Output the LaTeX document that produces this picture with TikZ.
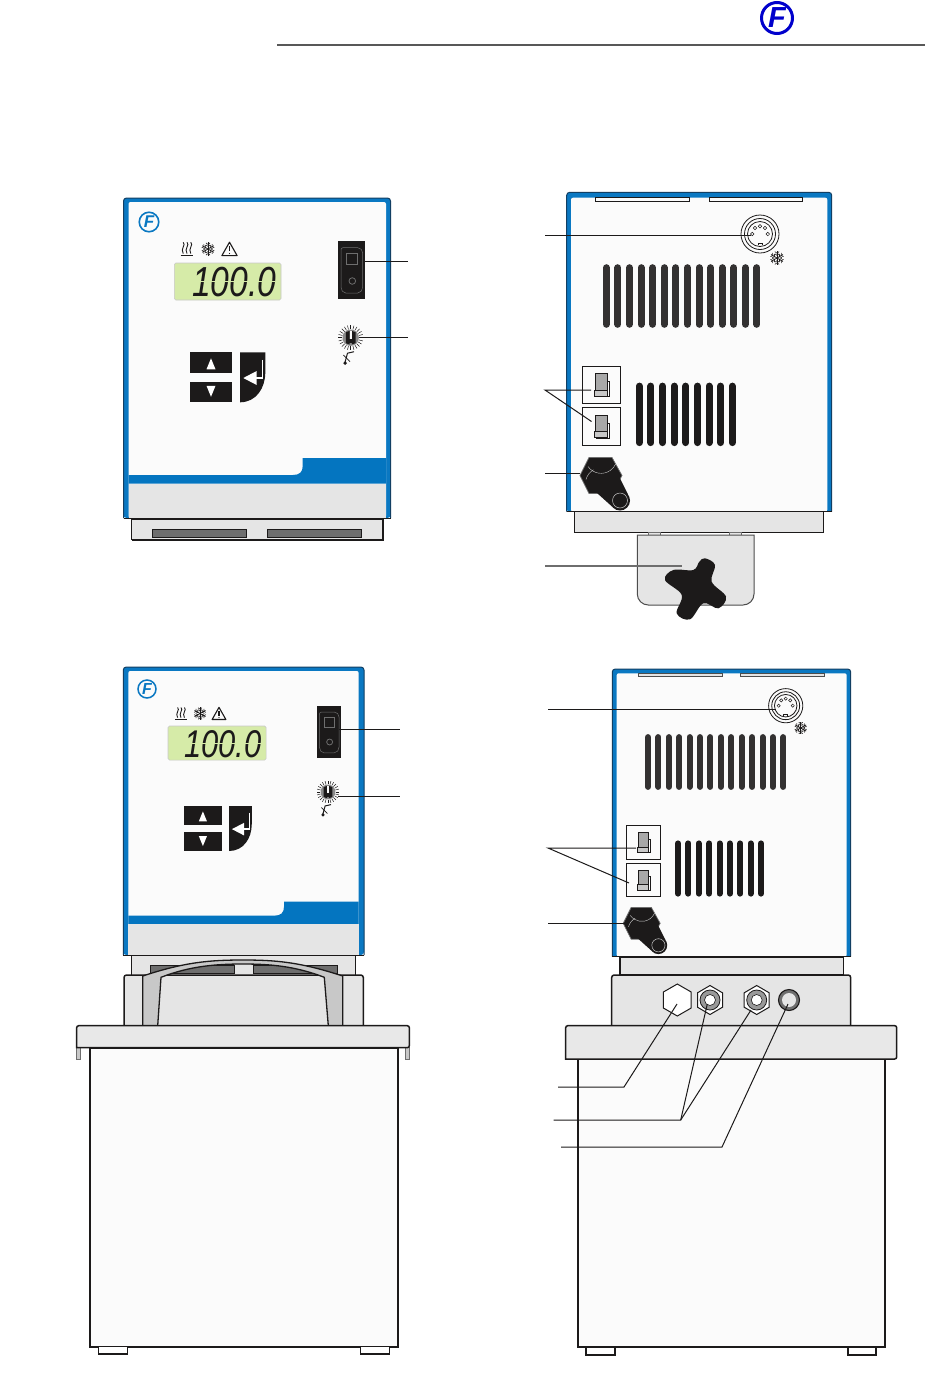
\documentclass[tikz,border=0pt]{standalone}
\usepackage{fontspec}
\setmainfont{Liberation Sans}
\definecolor{fblue}{HTML}{0A78C2}
\definecolor{fband}{HTML}{0475C0}
\definecolor{fedge}{HTML}{123F63}
\definecolor{logoblue}{HTML}{0000CC}
\definecolor{shell}{HTML}{FBFBFB}
\definecolor{lgray}{HTML}{E5E5E5}
\definecolor{hgray}{HTML}{C8C8C8}
\definecolor{sgray}{HTML}{6E6E6E}
\definecolor{ink}{HTML}{1C1A1A}
\definecolor{lcd}{HTML}{D6EBA8}
\tikzset{
  outl/.style={draw=ink,line width=1.5pt},
  leader/.style={draw=ink,line width=1pt},
  leadergray/.style={draw=sgray,line width=1.7pt},
  logotext/.style={font=\bfseries\itshape\fontsize{#1}{#1}\selectfont,inner sep=0pt},
}
% #1 name #2 x #3 y #4 size #5 colour #6 ring width #7 font size
\newcommand\flogo[7]{\node[circle,draw=#5,line width=#6,minimum size=#4,inner sep=0pt,text=#5,logotext=#7] (#1) at (#2,#3) {F};}
% #1 x1 #2 y1 #3 x2 #4 y2 #5 ix1 #6 iy1 #7 ix2
\newcommand\shellbody[7]{%
  \fill[fblue,rounded corners=3pt] (#1,#4) -- (#1,#2) -- (#3,#2) -- (#3,#4) -- cycle;
  \draw[fedge,line width=1pt,rounded corners=3pt] (#1,#4) -- (#1,#2) -- (#3,#2) -- (#3,#4);
  \fill[shell,rounded corners=2pt] (#5,#4) -- (#5,#6) -- (#7,#6) -- (#7,#4) -- cycle;
  \draw[ink,line width=1pt] (#1,#4) -- (#3,#4);
}
% #1 ix1 #2 ix2 #3 notch x #4 band right top #5 band left top #6 gray top #7 bottom
\newcommand\frontband[7]{%
  \fill[fband] (#1,#6) -- (#1,#5) -- ({#3-10},#5) .. controls ({#3-3},#5) and (#3,{#5-3}) .. (#3,{#5-9}) -- (#3,#4) -- (#2,#4) -- (#2,#6) -- cycle;
  \fill[lgray] (#1,#6) rectangle (#2,#7);
}
\newcommand\lcdpanel[4]{\begin{scope}[shift={(#2,#3)},scale=#4]
  \draw[fill=lcd,draw=hgray,line width=.6pt,rounded corners=1.5pt] (0,0) rectangle (106.7,37);
  \node[anchor=base east,inner sep=0pt,text=ink,font=\itshape\fontsize{42}{42}\selectfont,xscale=.8,transform shape] (#1) at (102,33.7) {100.0};
  \draw[lcd,line width=1.1pt] (16,18.6) -- (101,18.6);
\end{scope}}
\newcommand\rocker[3]{\begin{scope}[shift={(#1,#2)},scale=#3]
  \fill[ink] (0,0) rectangle (27.3,58);
  \draw[sgray,line width=.5pt,rounded corners=2pt] (3.3,6.7) -- (22,6.7) -- (25,10) -- (25,48) -- (22,52) -- (6,52) -- (3.3,48) -- cycle;
  \draw[sgray,line width=.6pt] (8.3,12.3) rectangle (19.6,23.3);
  \draw[sgray,line width=.8pt] (14.6,40) circle (3.3pt);
\end{scope}}
\newcommand\knob[3]{\begin{scope}[shift={(#1,#2)},scale=#3]
  \foreach \a in {0,15,...,345} \draw[ink,line width=.5pt] (\a:8.5) -- (\a:12.5);
  \fill[sgray!80] (0,0) circle (8.2pt);
  \fill[ink] (-4.8,-5.5) -- (-1.1,-6.8) -- (-1.1,6.8) -- (-4.8,5.5) -- cycle;
  \fill[ink] (4.8,-5.5) -- (1.1,-6.8) -- (1.1,6.8) -- (4.8,5.5) -- cycle;
  \fill[ink] (-1.4,1) rectangle (1.4,5.5);
  \fill[shell] (-1,-6.3) rectangle (1,1.5);
  % sensor symbol
  \draw[ink,line width=1pt] (3.3,14) -- (-3.2,15.5) -- (-5.8,25);
  \draw[ink,line width=.7pt] (-7.4,17.3) -- (-.7,24);
  \fill[ink] (-5.6,25.4) circle (1.9pt);
\end{scope}}
\newcommand\keypad[3]{\begin{scope}[shift={(#1,#2)},scale=#3]
  \fill[ink] (0,0) rectangle (42,21);
  \fill[ink] (0,29.4) rectangle (42,50);
  \fill[white] (21,6) -- (25.5,17) -- (16.5,17) -- cycle;
  \fill[white] (21,44.5) -- (25.5,33.5) -- (16.5,33.5) -- cycle;
  \fill[ink] (50,0) -- (75.3,0) -- (75.3,20) .. controls (75.3,36) and (66,50) .. (50,50) -- cycle;
  \draw[white,line width=1.4pt] (72.7,7.5) -- (72.7,25.7) -- (65,25.7);
  \fill[white] (53.3,25.7) -- (66.7,18.7) -- (66.7,32.7) -- cycle;
\end{scope}}
\newcommand\flake[3]{\begin{scope}[shift={(#1,#2)},scale=#3]
  \foreach \a in {30,90,...,330} {
    \draw[ink,line width=.8pt] (0,0) -- (\a:6.6);
    \draw[ink,line width=.6pt] (\a:2.6) -- ++({\a+55}:2.5);
    \draw[ink,line width=.6pt] (\a:2.6) -- ++({\a-55}:2.5);
    \draw[ink,line width=.6pt] (\a:4.6) -- ++({\a+55}:2.5);
    \draw[ink,line width=.6pt] (\a:4.6) -- ++({\a-55}:2.5);
  }
\end{scope}}
\newcommand\heater[3]{\begin{scope}[shift={(#1,#2)},scale=#3]
  \foreach \d in {-3.8,0,3.8}
    \draw[ink,line width=.9pt] (\d,-6.7) .. controls ({\d+3.2},-4) and ({\d-3.2},-.5) .. (\d,4.6);
  \draw[ink,line width=1.3pt] (-6.3,6.8) -- (6.3,6.8);
\end{scope}}
\newcommand\warn[3]{\begin{scope}[shift={(#1,#2)},scale=#3]
  \draw[ink,line width=1.1pt,line join=round] (0,-6.8) -- (7.6,6.6) -- (-7.6,6.6) -- cycle;
  \draw[ink,line width=1.1pt] (0,-2.6) -- (0,2.4);
  \fill[ink] (0,4.5) circle (.7pt);
\end{scope}}
\newcommand\rearsocket[3]{\begin{scope}[shift={(#1,#2)},scale=#3]
  \draw[ink,line width=.8pt] (0,0) circle (19pt);
  \draw[ink,line width=.8pt] (0,0) circle (15.5pt);
  \draw[ink,line width=.8pt] (0,0) circle (12.5pt);
  \foreach \a in {180,-130,-90,-50,0} \draw[ink,line width=.5pt,fill=shell] (\a:7.8) circle (1.8pt);
  \draw[ink,line width=.5pt] (-2.2,11) -- (-2.2,9.2) -- (2.2,9.2) -- (2.2,11);
\end{scope}}
% #1 x0 #2 step #3 last index #4 ytop #5 ybot #6 width #7 colour
\newcommand\vents[7]{\foreach \i in {0,...,#3}
  \draw[#7,line width=#6,line cap=round] ({#1+\i*#2},{#4+3.4}) -- ({#1+\i*#2},{#5-3.4});}
\newcommand\plugbox[5]{\begin{scope}[shift={(#1,#2)},xscale=#3,yscale=#4]
  \draw[ink,line width=.8pt,fill=shell] (0,0) rectangle (38.4,37.4);
  \draw[ink,line width=.6pt,fill=white] (14,15) rectangle (27,30);
  \draw[ink,line width=.6pt,fill=#5] (13,7.3) rectangle (25,24);
  \draw[ink,line width=1pt,fill=hgray] (12,24) rectangle (25,30);
\end{scope}}
\newcommand\gland[3]{\begin{scope}[shift={(#1,#2)},scale=#3]
  \draw[sgray,fill=ink,line width=.7pt] (-21,0) -- (-12,-18) -- (11,-18) -- (21,0) -- (11,18) -- (-12,18) -- cycle;
  \fill[ink] (12.7,-9.7) -- (27,19) -- (11,31) -- (-12.7,9.7) -- cycle;
  \fill[ink] (0,0) circle (16pt);
  \draw[hgray,line width=.4pt] (-13,-9) arc (-145:-25:16pt);
  \draw[hgray,line width=.4pt] (-15,4) arc (165:120:16pt);
  \fill[ink] (19,25) circle (10pt);
  \draw[hgray,line width=.5pt] (19,25) circle (7.5pt);
\end{scope}}
% #1 tx1 #2 tx2 #3 ty #4 by
\newcommand\foot[4]{\draw[ink,line width=1.5pt,fill=white] (#1,#3) rectangle (#2,#4);}
\begin{document}
\begin{tikzpicture}[x=1pt,y=-1pt,line join=miter]
\useasboundingbox (0,0) rectangle (950,1398);
\fill[white] (0,0) rectangle (950,1398);

% page header
\coordinate (hl) at (277,45);
\coordinate (hr) at (925,45);
\draw[sgray!80!black,line width=1.1pt] (hl) -- (hr);
\flogo{logotop}{777}{18}{31pt}{logoblue}{3pt}{29}

% ---------- A: front, top left ----------
\fill[lgray] (131.7,519) rectangle (382.7,540);
\draw[ink,line width=1.1pt] (131.7,519) -- (382.7,519);
\draw[ink,line width=.9pt] (131.7,519) -- (131.7,540);
\draw[ink,line width=1.6pt] (131.7,540) -- (382.7,540) -- (382.7,519);
\draw[ink,line width=.8pt,fill=sgray] (152.3,529.3) rectangle (246.7,537.7);
\draw[ink,line width=.8pt,fill=sgray] (267.3,529.3) rectangle (361.7,537.7);
\shellbody{123.5}{198}{390.5}{518}{128.5}{202}{386}
\frontband{128.5}{386}{302.7}{458}{475}{483.5}{517.5}
\flogo{logoA}{149}{222}{19.5pt}{fblue}{1.6pt}{17}
\heater{187}{249}{1}
\flake{208}{249}{1}
\warn{229.5}{249}{1}
\lcdpanel{lcdA}{174.3}{263}{1}
\rocker{337.7}{241}{1}
\knob{350.7}{337.7}{1}
\keypad{190}{352.3}{1}
\coordinate (a1s) at (363,261);
\coordinate (a1e) at (408,261);
\coordinate (a2s) at (361,337.5);
\coordinate (a2e) at (408,337.5);
\draw[leader] (a1s) -- (a1e);
\draw[leader] (a2s) -- (a2e);

% ---------- B: rear, top right ----------
\shellbody{566.7}{192.3}{831.7}{511.7}{571}{197.7}{827.3}
\draw[ink,line width=.8pt,fill=shell] (595,197.5) rectangle (689,201.7);
\draw[ink,line width=.8pt,fill=shell] (709.3,197.5) rectangle (802.7,201.7);
\rearsocket{760}{234}{1}
\flake{777}{258}{1.05}
\vents{606.3}{11.59}{13}{264.3}{327.7}{7pt}{ink!90}
\vents{639.3}{11.62}{8}{382.7}{446}{7pt}{ink}
\plugbox{582.3}{366}{1}{1}{sgray!60}
\plugbox{582.3}{407.8}{1}{1}{sgray!60}
\gland{601}{475.5}{1}
\coordinate (b1s) at (545,235);
\coordinate (b1e) at (751,235);
\coordinate (b2o) at (545,390);
\coordinate (b2a) at (591,390);
\coordinate (b2b) at (591.5,421.5);
\coordinate (b3s) at (545,473);
\coordinate (b3e) at (580,473);
\coordinate (b4s) at (545,566);
\coordinate (b4e) at (682,566);
\draw[leader] (b1s) -- (b1e);
\draw[leader] (b2a) -- (b2o) -- (b2b);
\draw[leader] (b3s) -- (b3e);
\draw[outl,fill=lgray,line width=1.1pt] (574.3,511.7) rectangle (823.7,532.3);
\draw[sgray,line width=.7pt,fill=lgray] (648.3,532.3) rectangle (660.7,535);
\draw[sgray,line width=.7pt,fill=lgray] (729.3,532.3) rectangle (741.7,535);
\draw[sgray!70!black,line width=1pt,fill=lgray,rounded corners=11pt] (637.3,535) [sharp corners] -- (754,535) [rounded corners=11pt] -- (754,605) -- (637.3,605) [sharp corners] -- cycle;
\draw[leadergray] (b4s) -- (b4e);
\fill[ink] plot[smooth cycle,tension=.6] coordinates {(705,558.3) (715,565) (711.7,581.7) (726,596.7) (718.3,608.3) (703.3,603.3) (690,619.3) (676.7,613.3) (681.7,595) (665,580) (673.3,570) (693.3,570) (699.3,561.7)};

% ---------- C: front, lower left ----------
\fill[lgray] (131.7,955) rectangle (355.7,975);
\draw[ink,line width=1.3pt] (131.7,955) -- (131.7,975);
\draw[ink,line width=1.3pt] (355.7,955) -- (355.7,975);
\draw[ink,line width=.7pt,fill=sgray] (150.3,965.3) rectangle (234.3,973);
\draw[ink,line width=.7pt,fill=sgray] (253.3,965.3) rectangle (337.3,973);
\draw[outl,fill=lgray,rounded corners=2.5pt] (124,1026) -- (124,975) -- (363.3,975) -- (363.3,1026);
\draw[outl,fill=hgray,line width=1.3pt] (142.7,1025.7) -- (142.7,976) .. controls (185,962) and (210,960) .. (243,960) .. controls (276,960) and (300,962) .. (342.7,976) -- (342.7,1025.7) -- (328.3,1025.7) -- (324.3,977.3) .. controls (295,966) and (270,964) .. (243,964) .. controls (216,964) and (190,966) .. (161,977.3) -- (157.7,1025.7) -- cycle;
\shellbody{123.3}{667}{364}{955}{128.3}{671}{358.7}
\frontband{128.3}{358.7}{284}{901.7}{915.7}{924.3}{954.5}
\flogo{logoC}{147}{689}{18pt}{fblue}{1.5pt}{16}
\heater{181}{713.5}{.9}
\flake{200}{713.5}{.95}
\warn{219}{713.5}{.9}
\lcdpanel{lcdC}{168}{726}{.92}
\rocker{316.5}{706}{.9}
\knob{328}{792}{.9}
\keypad{184}{806}{.9}
\coordinate (c1s) at (339,729);
\coordinate (c1e) at (400,729);
\coordinate (c2s) at (338,796);
\coordinate (c2e) at (400,796);
\draw[leader] (c1s) -- (c1e);
\draw[leader] (c2s) -- (c2e);
% lid and tank
\fill[hgray] (76,1047) rectangle (80.7,1059);
\draw[sgray,line width=.6pt] (76,1047) rectangle (80.7,1059);
\fill[hgray] (405,1047) rectangle (409.3,1059);
\draw[sgray,line width=.6pt] (405,1047) rectangle (409.3,1059);
\draw[outl,fill=shell,line width=1.7pt] (90,1047.7) rectangle (398,1346.7);
\draw[outl,fill=lgray!90!white,rounded corners=2pt] (76.7,1047.7) -- (76.7,1025.7) -- (409.3,1025.7) -- (409.3,1047.7) [sharp corners] -- cycle;
\foot{98.7}{127.7}{1346.7}{1354}
\foot{360.7}{389.3}{1346.7}{1354}

% ---------- D: rear, lower right ----------
\draw[outl,fill=lgray,line width=1.6pt] (620,956.7) rectangle (843.3,975);
\shellbody{612.3}{669}{850.7}{956.7}{616.7}{673.3}{846.7}
\draw[sgray!70!black,line width=.7pt,fill=hgray!50] (638.3,673) rectangle (722.3,676.7);
\draw[sgray!70!black,line width=.7pt,fill=hgray!50] (740.3,673) rectangle (824.3,676.7);
\rearsocket{785.7}{705.7}{.9}
\flake{800.7}{728}{.95}
\vents{648}{10.41}{13}{733.7}{790.3}{6pt}{ink!90}
\vents{678}{10.38}{8}{840}{897}{6pt}{ink}
\plugbox{626.3}{825.3}{.895}{.91}{sgray!60}
\plugbox{626.3}{863.3}{.895}{.89}{sgray!60}
\gland{641.7}{923.3}{.88}
\coordinate (d1s) at (548,709);
\coordinate (d1e) at (776,709);
\coordinate (d2o) at (548,848);
\coordinate (d2a) at (636,848);
\coordinate (d2b) at (629,883);
\coordinate (d3s) at (548,923);
\coordinate (d3e) at (624,923);
\draw[leader] (d1s) -- (d1e);
\draw[leader] (d2a) -- (d2o) -- (d2b);
\draw[leader] (d3s) -- (d3e);
% base
\draw[outl,fill=lgray,rounded corners=2.5pt] (611.7,1026) -- (611.7,975) -- (850.7,975) -- (850.7,1026);
\draw[outl,fill=shell,line width=1.7pt] (578,1059) rectangle (885,1347);
\draw[outl,fill=lgray!90!white,rounded corners=2pt] (565.7,1059) -- (565.7,1025.7) -- (896.7,1025.7) -- (896.7,1059) [sharp corners] -- cycle;
\foot{586}{615}{1347}{1355}
\foot{848}{876}{1347}{1355}
% ports
\begin{scope}[shift={(677.3,1000)}]
  \draw[ink,line width=1pt,fill=white] (0,-16) -- (13.9,-8) -- (13.9,8) -- (0,16) -- (-13.9,8) -- (-13.9,-8) -- cycle;
\end{scope}
\foreach \cx in {710,756.7} {
  \begin{scope}[shift={(\cx,1000)}]
    \draw[ink,line width=1pt,fill=white] (0,-14.5) -- (12.5,-7.2) -- (12.5,7.2) -- (0,14.5) -- (-12.5,7.2) -- (-12.5,-7.2) -- cycle;
    \draw[ink,line width=.8pt,fill=sgray!70] (0,0) circle (10pt);
    \draw[ink,line width=.6pt,fill=white] (0,0) circle (5.5pt);
  \end{scope}
}
\draw[ink,line width=1.1pt,fill=sgray] (789,1000) circle (10.5pt);
\fill[lgray] (789,1000) circle (7pt);
\coordinate (d4o) at (558,1087);
\coordinate (d4m) at (624,1087);
\coordinate (d4e) at (677,1004);
\coordinate (d5o) at (553.5,1120);
\coordinate (d5m) at (680.7,1120);
\coordinate (d5a) at (707.3,1004);
\coordinate (d5b) at (751,1010);
\coordinate (d6o) at (561,1147);
\coordinate (d6m) at (722,1147);
\coordinate (d6e) at (788,1004);
\draw[leader] (d4o) -- (d4m) -- (d4e);
\draw[leader] (d5o) -- (d5m) -- (d5a);
\draw[leader] (d5m) -- (d5b);
\draw[leader] (d6o) -- (d6m) -- (d6e);
\end{tikzpicture}
\end{document}
